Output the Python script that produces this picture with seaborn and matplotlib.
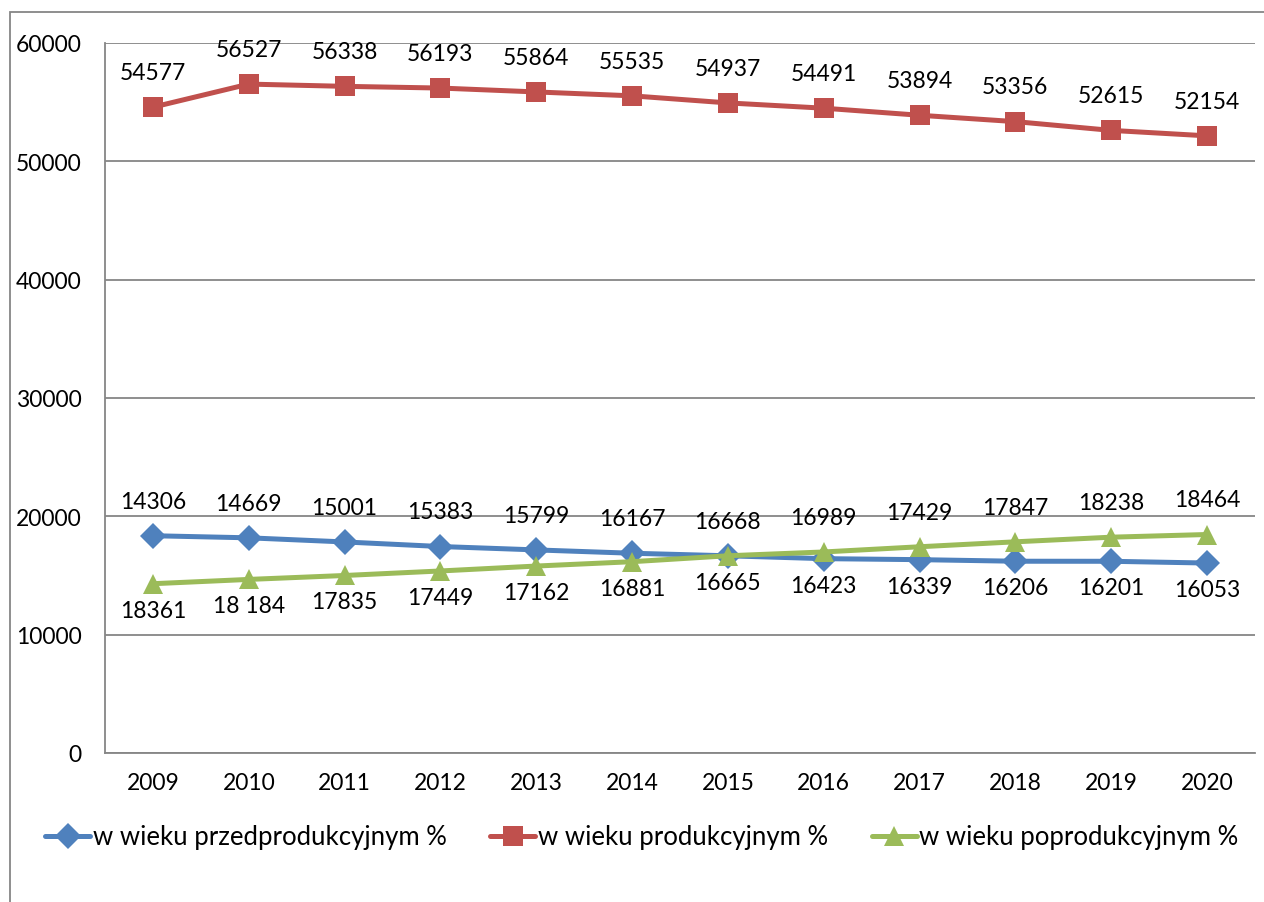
import pandas as pd
import matplotlib
matplotlib.use("Agg")
import matplotlib.pyplot as plt
import matplotlib.patches as patches
from matplotlib.ticker import FixedLocator
import seaborn as sns

# values
years = ["2009", "2010", "2011", "2012", "2013", "2014",
         "2015", "2016", "2017", "2018", "2019", "2020"]
przed = [18361, 18184, 17835, 17449, 17162, 16881, 16665, 16423, 16339, 16206, 16201, 16053]
prod = [54577, 56527, 56338, 56193, 55864, 55535, 54937, 54491, 53894, 53356, 52615, 52154]
popro = [14306, 14669, 15001, 15383, 15799, 16167, 16668, 16989, 17429, 17847, 18238, 18464]
przed_labels = ["18361", "18 184", "17835", "17449", "17162", "16881",
                "16665", "16423", "16339", "16206", "16201", "16053"]
names = ["w wieku przedprodukcyjnym %", "w wieku produkcyjnym %", "w wieku poprodukcyjnym %"]
yticks = [0, 10000, 20000, 30000, 40000, 50000, 60000]

sns.set_style("white")
plt.rcParams['font.family'] = ['Lato', 'DejaVu Sans']
plt.rcParams['text.color'] = 'black'
plt.rcParams['xtick.labelcolor'] = 'black'
plt.rcParams['ytick.labelcolor'] = 'black'

df = pd.DataFrame({"x": range(len(years)), "przed": przed, "prod": prod, "popro": popro})

fig = plt.figure(figsize=(12.64, 9.03), dpi=100)
ax = fig.add_axes([105 / 1264, 1 - 754 / 903, 1150 / 1264, 710 / 903])

grid_col = "#868686"
series = [("przed", "#4F81BD", "D", 13), ("prod", "#C0504D", "s", 14), ("popro", "#9BBB59", "^", 15)]
for (col, color, mk, ms), name in zip(series, names):
    sns.lineplot(data=df, x="x", y=col, ax=ax, color=color, marker=mk, markersize=ms,
                 markeredgewidth=0, linewidth=3.6, label=name)

# data labels
fs = 16.5
for i in range(len(years)):
    ax.annotate(str(prod[i]), (i, prod[i]), xytext=(0, 25), textcoords="offset points",
                ha="center", va="center", fontsize=fs)
    hi = max(przed[i], popro[i])
    lo = min(przed[i], popro[i])
    ax.annotate(str(popro[i]), (i, hi), xytext=(0, 25), textcoords="offset points",
                ha="center", va="center", fontsize=fs)
    ax.annotate(przed_labels[i], (i, lo), xytext=(0, -19), textcoords="offset points",
                ha="center", va="center", fontsize=fs)

ax.set_xlim(-0.5, len(years) - 0.5)
ax.set_ylim(0, 60000)
ax.set_yticks(yticks)
ax.set_yticklabels([str(v) for v in yticks], fontsize=fs)
ax.set_xticks(range(len(years)))
ax.set_xticklabels(years, fontsize=fs)
ax.xaxis.set_minor_locator(FixedLocator([i - 0.5 for i in range(len(years) + 1)]))
ax.tick_params(axis="x", which="major", length=0, pad=14)
ax.tick_params(axis="x", which="minor", length=6, width=1.3, color=grid_col, direction="out")
ax.tick_params(axis="y", which="major", length=5, width=1.3, color=grid_col, direction="out", pad=12)
ax.set_xlabel("")
ax.set_ylabel("")

ax.yaxis.grid(True, color=grid_col, linewidth=1.3)
ax.set_axisbelow(True)
for side in ["top", "right"]:
    ax.spines[side].set_visible(False)
for side in ["left", "bottom"]:
    ax.spines[side].set_color(grid_col)
    ax.spines[side].set_linewidth(1.3)

leg = ax.legend(loc="center", bbox_to_anchor=(0.5 + 10 / 1264, (903 - 838) / 903),
                bbox_transform=fig.transFigure,
                ncol=3, frameon=False, fontsize=18.5, handlelength=1.75, handletextpad=0.1,
                columnspacing=1.7, borderpad=0)

# outer chart border (only left and top visible in the crop)
fig.add_artist(patches.Rectangle((10 / 1264, -0.1), 1.2, 1 - 13 / 903 + 0.1,
                                 transform=fig.transFigure, fill=False,
                                 edgecolor=grid_col, linewidth=1.3, clip_on=False))

fig.savefig("out.png", dpi=100)
